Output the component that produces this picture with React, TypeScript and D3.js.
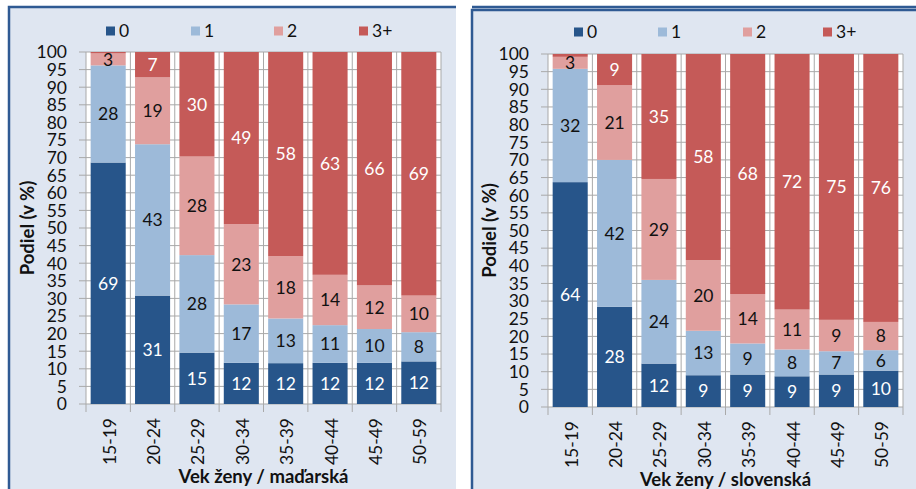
import React from "react";
import * as d3 from "d3";

const categories = ["15-19", "20-24", "25-29", "30-34", "35-39", "40-44", "45-49", "50-59"];
const seriesNames = ["0", "1", "2", "3+"];
const seriesColors = ["#27558a", "#9dbad9", "#e09f9e", "#c55a58"];
const labelColors = ["#ffffff", "#111111", "#111111", "#ffffff"];
const yTicks = [0, 5, 10, 15, 20, 25, 30, 35, 40, 45, 50, 55, 60, 65, 70, 75, 80, 85, 90, 95, 100];

// Hungarian nationality (maďarská)
const hu0 = [68.6, 30.8, 14.6, 11.7, 11.6, 11.7, 11.7, 12.1];
const hu1 = [27.6, 43.0, 27.7, 16.6, 12.7, 10.7, 9.6, 8.3];
const hu2 = [3.4, 19.0, 28.0, 22.8, 17.7, 14.3, 12.4, 10.4];
const hu3 = [0.4, 7.2, 29.7, 48.9, 58.0, 63.3, 66.3, 69.2];

// Slovak nationality (slovenská)
const sk0 = [63.7, 28.4, 12.3, 9.0, 9.2, 8.7, 9.2, 10.3];
const sk1 = [32.1, 41.6, 23.7, 12.6, 8.8, 7.6, 6.6, 5.8];
const sk2 = [3.4, 21.2, 28.6, 20.0, 14.0, 11.3, 8.9, 8.0];
const sk3 = [0.8, 8.8, 35.4, 58.4, 68.0, 72.4, 75.3, 75.9];

const FONT = "Lato, 'Open Sans', sans-serif";
const FS = 17.5;
const TFS = 18.5;
const GRID = "#a9a9a9";

type PanelProps = {
  bx: number;
  by: number;
  px0: number;
  px1: number;
  py100: number;
  py0: number;
  legendX: number[];
  legendY: number;
  title: string;
  series: number[][];
};

function Panel(p: PanelProps) {
  const x = d3.scaleBand<string>().domain(categories).range([p.px0, p.px1]).paddingInner(0.21).paddingOuter(0.105);
  const y = d3.scaleLinear().domain([0, 100]).range([p.py0, p.py100]);
  const rows = categories.map((c, i) => {
    const r: any = { cat: c };
    seriesNames.forEach((s, k) => (r[s] = p.series[k][i]));
    return r;
  });
  const stacked = d3.stack<any>().keys(seriesNames)(rows);
  const half = (x.step() * x.paddingInner()) / 2;
  const boundaries = categories.map((c) => (x(c) as number) + x.bandwidth() + half);
  const cx = (c: string) => (x(c) as number) + x.bandwidth() / 2;

  return (
    <g fontFamily={FONT}>
      <rect x={p.bx} y={p.by} width={1000} height={600} fill="#dfe6f1" stroke="#2f5a93" strokeWidth={2.5} />
      {/* legend */}
      {seriesNames.map((s, k) => (
        <g key={s}>
          <rect x={p.legendX[k]} y={p.legendY - 4.5} width={9} height={9} fill={seriesColors[k]} />
          <text x={p.legendX[k] + 13} y={p.legendY + 6.3} fontSize={FS} fill="#111">
            {s}
          </text>
        </g>
      ))}
      {/* plot area */}
      <rect x={p.px0} y={p.py100} width={p.px1 - p.px0} height={p.py0 - p.py100} fill="#ffffff" />
      {yTicks.map((t) => (
        <line key={"h" + t} x1={p.px0 - 7} x2={p.px1} y1={y(t)} y2={y(t)} stroke={GRID} strokeWidth={1} />
      ))}
      <line x1={p.px0} x2={p.px0} y1={p.py100} y2={p.py0 + 8} stroke={GRID} />
      {boundaries.map((b, i) => (
        <line key={"v" + i} x1={b} x2={b} y1={p.py100} y2={p.py0 + 8} stroke={GRID} />
      ))}
      {/* bars */}
      {stacked.map((layer, k) =>
        layer.map((d, i) => (
          <rect
            key={k + "-" + i}
            x={x(categories[i])}
            y={y(d[1])}
            width={x.bandwidth()}
            height={Math.max(0, y(d[0]) - y(d[1]))}
            fill={seriesColors[k]}
          />
        ))
      )}
      {/* data labels */}
      {stacked.map((layer, k) =>
        layer.map((d, i) => {
          const v = d[1] - d[0];
          if (v < 1.5) return null;
          return (
            <text
              key={"l" + k + "-" + i}
              x={cx(categories[i])}
              y={(y(d[0]) + y(d[1])) / 2 + 6.3}
              textAnchor="middle"
              fontSize={FS}
              fill={labelColors[k]}
            >
              {Math.round(v)}
            </text>
          );
        })
      )}
      {/* y tick labels */}
      {yTicks.map((t) => (
        <text key={"yl" + t} x={p.px0 - 19} y={y(t) + 6.3} textAnchor="end" fontSize={FS} fill="#111">
          {t}
        </text>
      ))}
      {/* x tick labels */}
      {categories.map((c) => (
        <text
          key={"xl" + c}
          transform={`translate(${cx(c) + 1},${p.py0 + 14}) rotate(-90)`}
          textAnchor="end"
          dominantBaseline="central"
          fontSize={FS}
          fill="#111"
        >
          {c}
        </text>
      ))}
      {/* axis titles */}
      <text
        transform={`translate(${p.px0 - 59},${(p.py0 + p.py100) / 2}) rotate(-90)`}
        textAnchor="middle"
        dominantBaseline="central"
        fontSize={TFS}
        fontWeight="bold"
        fill="#111"
      >
        Podiel (v %)
      </text>
      <text x={(p.px0 + p.px1) / 2} y={p.py0 + 79} textAnchor="middle" fontSize={TFS} fontWeight="bold" fill="#111">
        {p.title}
      </text>
    </g>
  );
}

export default function App() {
  return (
    <div style={{ position: "absolute", left: 0, top: 0 }}>
      <svg width={916} height={489} style={{ display: "block", background: "#ffffff" }}>
        <Panel
          bx={9}
          by={7}
          px0={86}
          px1={441}
          py100={52}
          py0={404}
          legendX={[106, 191, 274, 359]}
          legendY={31}
          title="Vek ženy / maďarská"
          series={[hu0, hu1, hu2, hu3]}
        />
        <rect x={456} y={0} width={16} height={489} fill="#ffffff" />
        <Panel
          bx={472}
          by={10}
          px0={548}
          px1={903}
          py100={54}
          py0={407}
          legendX={[574, 658, 743, 823]}
          legendY={32}
          title="Vek ženy / slovenská"
          series={[sk0, sk1, sk2, sk3]}
        />
      </svg>
    </div>
  );
}
